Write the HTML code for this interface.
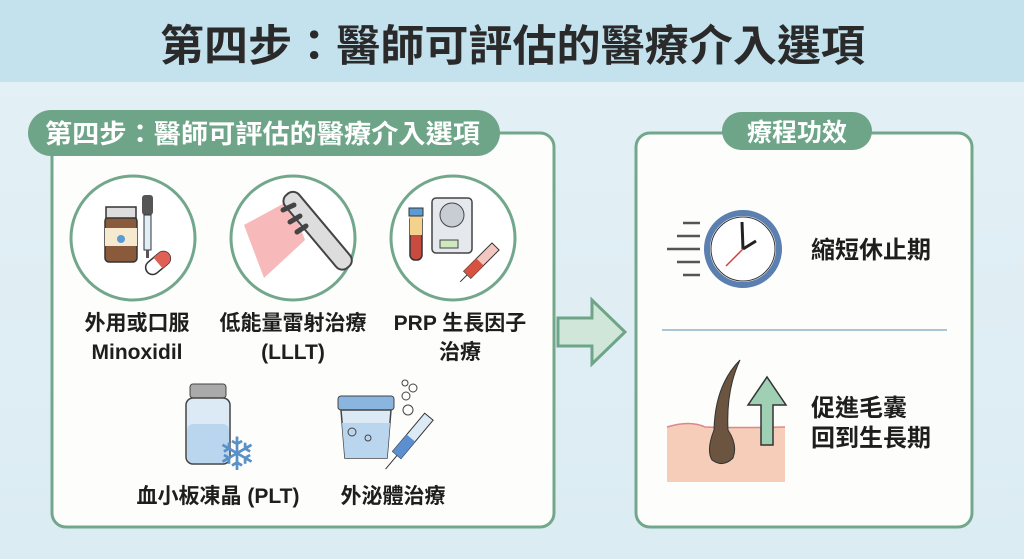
<!DOCTYPE html>
<html><head><meta charset="utf-8"><style>
body{margin:0;width:1024px;height:559px;overflow:hidden;background:linear-gradient(#e4f1f6,#dcecf3);font-family:"Liberation Sans","Noto Sans CJK TC",sans-serif}
</style></head><body>
<svg width="1024" height="559" viewBox="0 0 1024 559" xmlns="http://www.w3.org/2000/svg" style="position:absolute;left:0;top:0">
<rect x="0" y="0" width="1024" height="82" fill="#c4e2ee"/>
<text x="160" y="61" textLength="705" lengthAdjust="spacingAndGlyphs" font-size="43" font-weight="bold" fill="#2a2a2a" font-family="Liberation Sans, Noto Sans CJK TC, sans-serif">第四步：醫師可評估的醫療介入選項</text>
<!-- left panel -->
<rect x="52" y="133" width="502" height="394" rx="14" fill="#fdfdfb" stroke="#72a78c" stroke-width="3"/>
<rect x="28" y="110" width="472" height="46" rx="23" fill="#6ea588"/>
<text x="45" y="143" textLength="435" lengthAdjust="spacingAndGlyphs" font-size="26" font-weight="bold" fill="#fff" font-family="Liberation Sans, Noto Sans CJK TC, sans-serif">第四步：醫師可評估的醫療介入選項</text>
<!-- circles -->
<g fill="#fff" stroke="#72a78c" stroke-width="3">
<circle cx="133" cy="238" r="62"/><circle cx="293" cy="238" r="62"/><circle cx="453" cy="238" r="62"/></g>
<!-- icon1 bottle -->
<rect x="105" y="217" width="32" height="45" rx="4" fill="#8a5a3c" stroke="#333" stroke-width="1.5"/>
<rect x="105" y="228" width="32" height="18" fill="#f5ead0"/>
<rect x="106" y="207" width="30" height="11" fill="#ddd" stroke="#333" stroke-width="1.5"/>
<circle cx="121" cy="239" r="4" fill="#5b9bd5"/>
<rect x="142" y="195" width="11" height="20" rx="3" fill="#555"/>
<rect x="144" y="215" width="7" height="35" fill="#dfeef7" stroke="#333"/>
<rect x="146" y="250" width="3" height="8" fill="#555"/>
<g transform="rotate(-40 158 263)"><rect x="144" y="256" width="28" height="14" rx="7" fill="#fff" stroke="#333" stroke-width="1.5"/><path d="M158 256h7a7 7 0 0 1 0 14h-7z" fill="#e06055"/></g>
<!-- icon2 laser -->
<path d="M244 225 L290 200 L305 240 L264 278 Z" fill="#f08080" opacity="0.55"/>
<g transform="rotate(50 305 225)"><rect x="270" y="210" width="95" height="18" rx="8" fill="#ddd" stroke="#444" stroke-width="2"/></g>
<g stroke="#444" stroke-width="5" stroke-linecap="round"><line x1="283" y1="210" x2="294" y2="205"/><line x1="290" y1="222" x2="300" y2="216"/><line x1="297" y1="232" x2="306" y2="226"/></g>
<!-- icon3 prp -->
<rect x="410" y="215" width="12" height="45" rx="5" fill="#c94a3e" stroke="#333" stroke-width="1.5"/>
<rect x="410" y="215" width="12" height="20" fill="#f3d38c"/>
<rect x="409" y="208" width="14" height="8" fill="#5b9bd5" stroke="#333"/>
<rect x="432" y="198" width="40" height="55" rx="4" fill="#e5e9ee" stroke="#444" stroke-width="1.5"/>
<circle cx="452" cy="215" r="12" fill="#c8cdd4" stroke="#444"/>
<rect x="440" y="240" width="18" height="8" fill="#cfe8c0" stroke="#444"/>
<g transform="rotate(-45 480 262)"><rect x="462" y="257" width="40" height="10" fill="#f4c6c0" stroke="#333"/><rect x="462" y="257" width="18" height="10" fill="#d9523f"/><line x1="452" y1="262" x2="462" y2="262" stroke="#333"/></g>
<!-- labels -->
<g font-size="21" font-weight="bold" fill="#1e1e1e" text-anchor="middle" font-family="Liberation Sans, Noto Sans CJK TC, sans-serif">
<text x="137" y="330">外用或口服</text><text x="137" y="359">Minoxidil</text>
<text x="293" y="330">低能量雷射治療</text><text x="293" y="359">(LLLT)</text>
<text x="460" y="330">PRP 生長因子</text><text x="460" y="359">治療</text>
<text x="218" y="503">血小板凍晶 (PLT)</text><text x="393" y="503">外泌體治療</text>
</g>
<!-- vial -->
<rect x="190" y="384" width="36" height="14" rx="3" fill="#aaa" stroke="#444"/>
<rect x="186" y="398" width="44" height="66" rx="7" fill="#dbeaf5" stroke="#444" stroke-width="1.5"/>
<rect x="187" y="424" width="42" height="39" rx="6" fill="#b9d6ee"/>
<text x="237" y="470" font-size="46" text-anchor="middle" fill="#5a90c8">❄</text>
<!-- cup -->
<rect x="338" y="396" width="56" height="14" rx="3" fill="#8ab5de" stroke="#444"/>
<path d="M341 410 L391 410 L387 458 L345 458 Z" fill="#dbeaf5" stroke="#444" stroke-width="1.5"/>
<path d="M342 423 L390 423 L387 458 L345 458 Z" fill="#b9d6ee"/>
<g fill="none" stroke="#444"><circle cx="405" cy="383" r="3"/><circle cx="413" cy="388" r="4"/><circle cx="406" cy="396" r="4"/><circle cx="408" cy="410" r="5"/><circle cx="352" cy="432" r="4"/><circle cx="368" cy="438" r="3"/></g>
<g transform="rotate(-50 410 440)"><rect x="390" y="434" width="50" height="11" fill="#dbeaf5" stroke="#333"/><rect x="390" y="434" width="22" height="11" fill="#5b8fd0"/><line x1="372" y1="440" x2="390" y2="440" stroke="#333"/></g>
<!-- arrow -->
<path d="M558 318 L592 318 L592 300 L625 332 L592 364 L592 346 L558 346 Z" fill="#cfe6d8" stroke="#6ea588" stroke-width="3"/>
<!-- right panel -->
<rect x="636" y="133" width="336" height="394" rx="14" fill="#fdfdfb" stroke="#72a78c" stroke-width="3"/>
<rect x="722" y="112" width="150" height="38" rx="19" fill="#6ea588"/>
<text x="797" y="141" text-anchor="middle" font-size="25" font-weight="bold" fill="#fff" font-family="Liberation Sans, Noto Sans CJK TC, sans-serif">療程功效</text>
<g stroke="#555" stroke-width="2.5"><line x1="683" y1="223" x2="700" y2="223"/><line x1="677" y1="236" x2="700" y2="236"/><line x1="667" y1="249" x2="700" y2="249"/><line x1="677" y1="262" x2="700" y2="262"/><line x1="683" y1="275" x2="700" y2="275"/></g>
<circle cx="743" cy="249" r="36" fill="#fff" stroke="#5a7fb0" stroke-width="6"/>
<circle cx="743" cy="249" r="32" fill="none" stroke="#333" stroke-width="1"/>
<line x1="743" y1="249" x2="742" y2="222" stroke="#222" stroke-width="3"/>
<line x1="743" y1="249" x2="756" y2="241" stroke="#222" stroke-width="3"/>
<line x1="743" y1="249" x2="726" y2="266" stroke="#c44" stroke-width="1.5"/>
<text x="811" y="258" font-size="24" font-weight="bold" fill="#1e1e1e" font-family="Liberation Sans, Noto Sans CJK TC, sans-serif">縮短休止期</text>
<line x1="662" y1="330" x2="947" y2="330" stroke="#a8c6d6" stroke-width="2"/>
<path d="M667 427 Q690 420 705 427 Q730 428 785 427 L785 482 L667 482 Z" fill="#f5cdb9"/>
<path d="M667 427 Q690 420 705 427 Q730 428 785 427" fill="none" stroke="#d88" stroke-width="1.5"/>
<path d="M740 360 Q715 385 714 430 Q706 450 712 460 Q723 468 733 458 Q738 445 728 430 Q726 390 740 360Z" fill="#6b5440" stroke="#333"/>
<path d="M761 445 L761 405 L748 405 L767 377 L786 405 L773 405 L773 445 Z" fill="#9fd0b4" stroke="#333" stroke-width="1.5"/>
<text x="811" y="416" font-size="24" font-weight="bold" fill="#1e1e1e" font-family="Liberation Sans, Noto Sans CJK TC, sans-serif">促進毛囊</text>
<text x="811" y="446" font-size="24" font-weight="bold" fill="#1e1e1e" font-family="Liberation Sans, Noto Sans CJK TC, sans-serif">回到生長期</text>
</svg>
</body></html>
